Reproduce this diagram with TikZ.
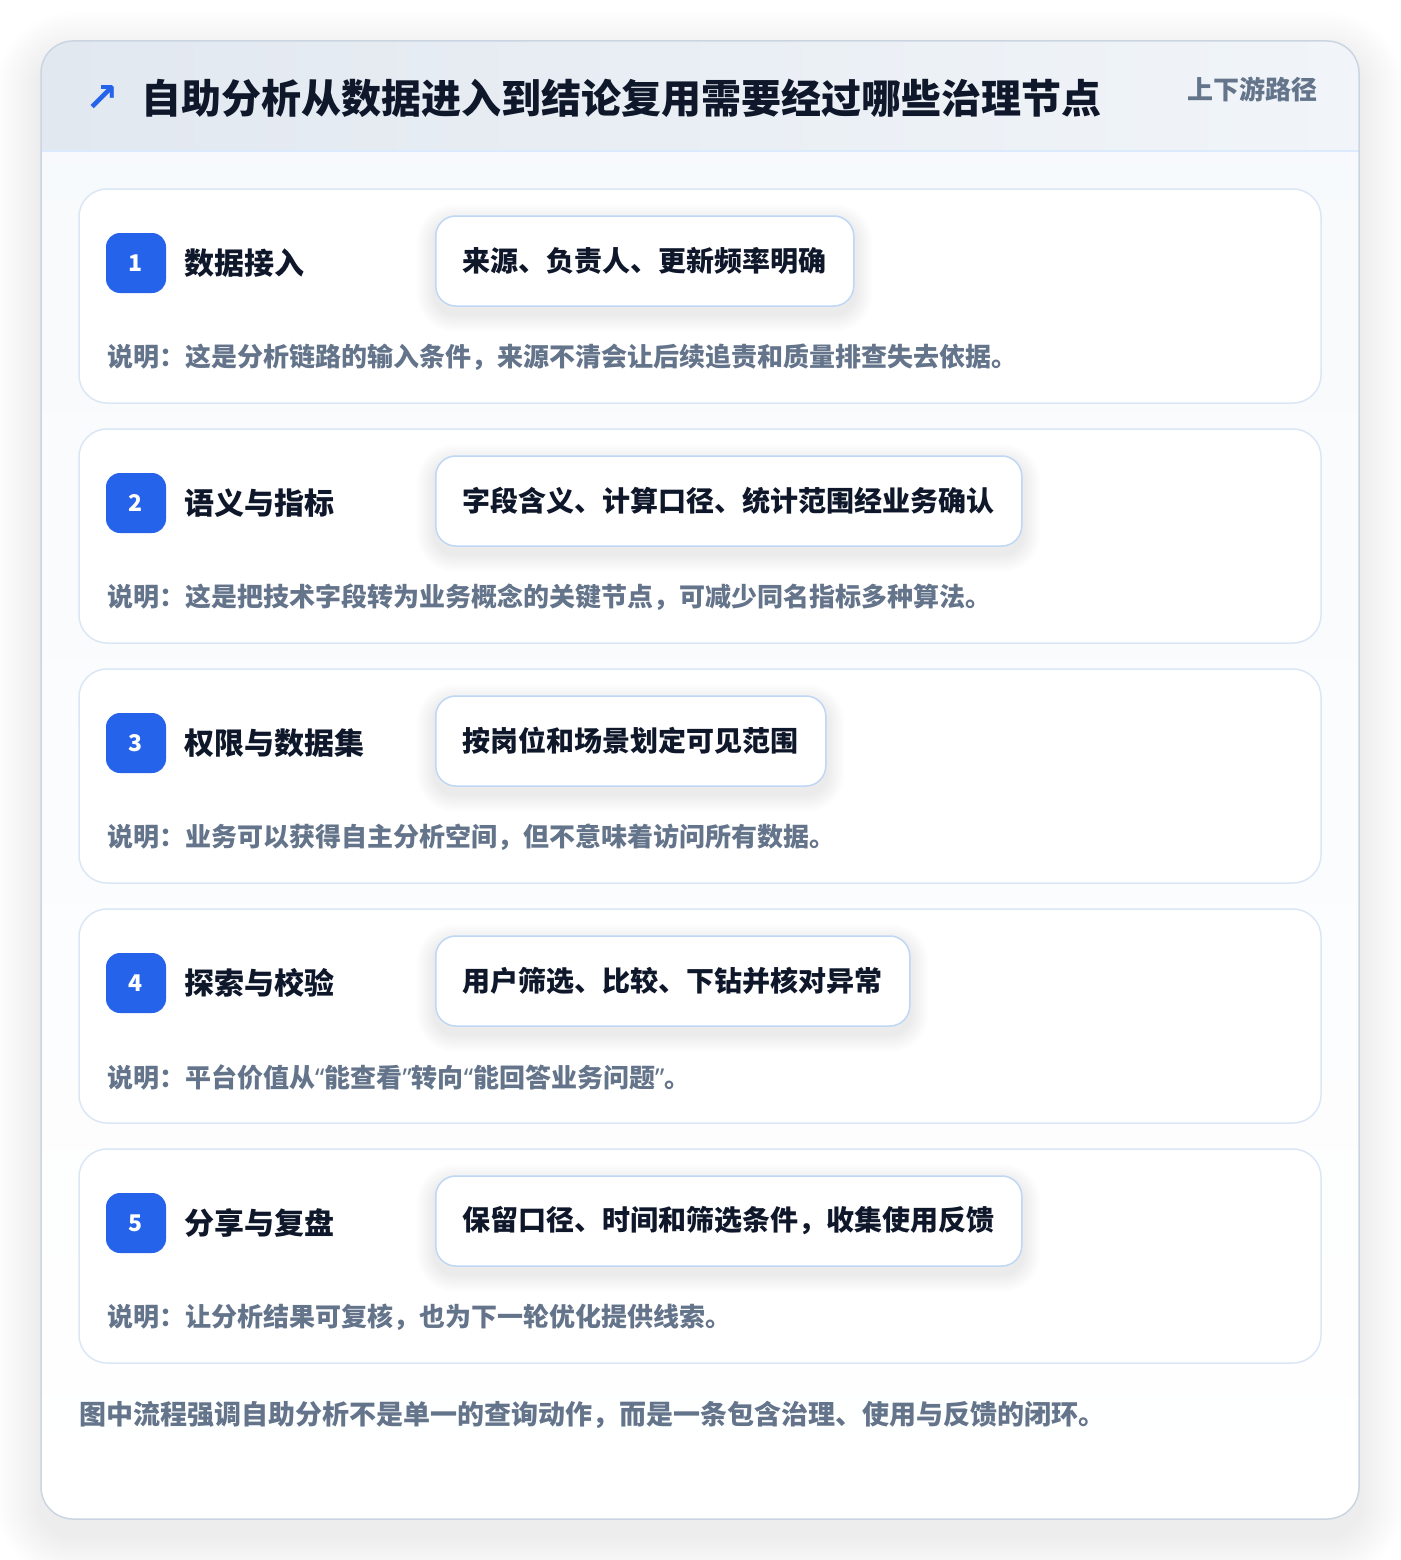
\documentclass[tikz,border=0pt]{standalone}
\usepackage{fontspec}
\setmainfont{Noto Sans CJK SC}
\newfontfamily\symfont{DejaVu Sans}
\newfontfamily\latfont{Noto Sans}
\usetikzlibrary{calc}
\definecolor{ink}{HTML}{0F172A}
\definecolor{muted}{HTML}{64748B}
\definecolor{brand}{HTML}{2563EB}
\definecolor{cardline}{HTML}{DBE7F6}
\definecolor{pillline}{HTML}{BFD7F5}
\definecolor{outerline}{HTML}{CBD5E1}
\definecolor{headA}{HTML}{E2E8F0}
\definecolor{headB}{HTML}{F1F5F9}
\definecolor{sepline}{HTML}{DBEAFE}
\pgfdeclarelayer{cards}
\pgfdeclarelayer{shad}
\pgfsetlayers{cards,shad,main}
\tikzset{
  stepcard/.style={draw=cardline, line width=1.5pt, fill=white, rounded corners=28pt},
  badge/.style={fill=brand, rounded corners=14pt, minimum width=60pt, minimum height=60pt, inner sep=0pt, text=white, font=\fontsize{23}{27}\selectfont\bfseries},
  steptitle/.style={anchor=west, inner sep=0pt, text=ink, font=\fontsize{30}{36}\selectfont\bfseries},
  pill/.style={anchor=west, draw=pillline, line width=1.5pt, fill=white, rounded corners=20pt, minimum height=90pt, inner xsep=27pt, inner ysep=0pt, text=ink, font=\fontsize{28}{34}\selectfont\bfseries},
  desc/.style={anchor=west, inner sep=0pt, text=muted, font=\fontsize{26}{32}\selectfont\bfseries},
  softshade/.style={fill=black, fill opacity=#1, draw=none},
}
\newcommand\lquo{{\latfont “}}
\newcommand\rquo{{\latfont ”}}
\newcommand\mkstep[5]{%
  \begin{pgfonlayer}{cards}
  \draw[stepcard] (79,#2) rectangle (1321,#2+214);
  \end{pgfonlayer}
  \node[badge] (badge#1) at (136,#2+74) {#1};
  \node[steptitle] (title#1) at (184,#2+74) {#3};
  \node[pill] (pill#1) at (435,#2+72) {#4};
  \node[desc] (desc#1) at (107,#2+168) {#5};
  \begin{pgfonlayer}{shad}
  \foreach \k in {1,...,10}{
    \pgfmathsetmacro\rr{20+1.8*\k}
    \fill[softshade=0.007, rounded corners=\rr pt] ($(pill#1.south west)+(-1.8*\k,1.8*\k+7)$) rectangle ($(pill#1.north east)+(1.8*\k,-1.8*\k+7)$);
  }
  \end{pgfonlayer}
}
\begin{document}
\begin{tikzpicture}[x=1pt,y=-1pt]
\begin{pgfonlayer}{cards}
\useasboundingbox (0,0) rectangle (1400,1560);
\fill[white] (0,0) rectangle (1400,1560);
% soft shadow of outer card
\foreach \k in {1,...,18}{
  \pgfmathsetmacro\rr{32+2.5*\k}
  \fill[softshade=0.0048, rounded corners=\rr pt] (41-2.5*\k,41-2.5*\k+16) rectangle (1359+2.5*\k,1519+2.5*\k+16);
}
\path[fill=white, rounded corners=32pt] (41,41) rectangle (1359,1519);
\path[rounded corners=32pt, top color=headB!60!white, bottom color=white] (41,41) rectangle (1359,1519);
% header band
\begin{scope}
  \clip[rounded corners=32pt] (41,41) rectangle (1359,1519);
  \path[left color=headA, right color=headB] (41,41) rectangle (1359,151);
  \draw[sepline, line width=1.5pt] (41,151) -- (1359,151);
\end{scope}
\draw[outerline, line width=1.5pt, rounded corners=32pt] (41,41) rectangle (1359,1519);
\end{pgfonlayer}
% header content
\node[anchor=center, inner sep=0pt, text=brand, font=\symfont\bfseries\fontsize{40}{46}\selectfont] (icon) at (102,99) {↗};
\node[anchor=west, inner sep=0pt, text=ink, font=\fontsize{40}{48}\selectfont\bfseries] (title) at (141,98) {自助分析从数据进入到结论复用需要经过哪些治理节点};
\node[anchor=east, inner sep=0pt, text=muted, font=\fontsize{26}{32}\selectfont\bfseries] (tag) at (1318,89) {上下游路径};
% steps
\mkstep{1}{189}{数据接入}{来源、负责人、更新频率明确}{说明：这是分析链路的输入条件，来源不清会让后续追责和质量排查失去依据。}
\mkstep{2}{429}{语义与指标}{字段含义、计算口径、统计范围经业务确认}{说明：这是把技术字段转为业务概念的关键节点，可减少同名指标多种算法。}
\mkstep{3}{669}{权限与数据集}{按岗位和场景划定可见范围}{说明：业务可以获得自主分析空间，但不意味着访问所有数据。}
\mkstep{4}{909}{探索与校验}{用户筛选、比较、下钻并核对异常}{说明：平台价值从\lquo 能查看\rquo 转向\lquo 能回答业务问题\rquo 。}
\mkstep{5}{1149}{分享与复盘}{保留口径、时间和筛选条件，收集使用反馈}{说明：让分析结果可复核，也为下一轮优化提供线索。}
% footer
\node[anchor=west, inner sep=0pt, text=muted, font=\fontsize{27}{33}\selectfont\bfseries] (footer) at (79,1415) {图中流程强调自助分析不是单一的查询动作，而是一条包含治理、使用与反馈的闭环。};
\end{tikzpicture}
\end{document}
